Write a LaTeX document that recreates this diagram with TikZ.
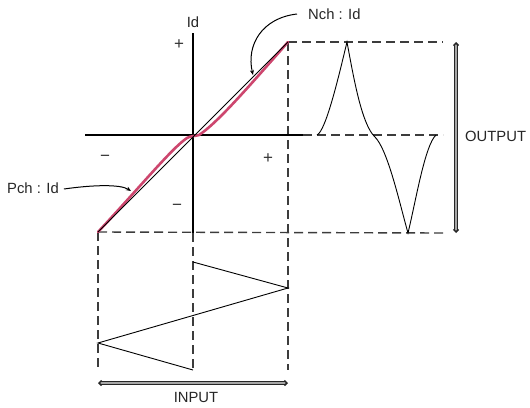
\documentclass[tikz,border=0pt]{standalone}
\usepackage{fontspec}
\setmainfont{Liberation Sans}
\usetikzlibrary{arrows.meta}
\definecolor{pinkline}{RGB}{205,70,110}
\definecolor{dashgray}{RGB}{60,60,60}
\tikzset{
  axisline/.style={line width=1.1pt, black},
  dashline/.style={line width=1.4pt, dashgray, dash pattern=on 9pt off 5pt},
  waveline/.style={line width=0.9pt, black},
  lbl/.style={font=\fontsize{14.8}{16}\selectfont, inner sep=0pt, text=black!85},
  sign/.style={font=\fontsize{17}{18}\selectfont, inner sep=0pt, text=black!80},
  callout/.style={line width=1pt, black, -{Stealth[length=5pt,width=4pt]}},
  dimarrow/.style={line width=1.5pt, double=gray!70, double distance=1.2pt, black!85,
     {Straight Barb[length=2.5pt,width=5pt]}-{Straight Barb[length=2.5pt,width=5pt]}}
}
\begin{document}
\begin{tikzpicture}[x=1pt,y=-1pt]
\useasboundingbox (0,0) rectangle (530,407);
% key points
\coordinate (O) at (193,135);
\coordinate (TR) at (288,42);
\coordinate (BL) at (98,232);
\coordinate (axT) at (193,33);
\coordinate (axB) at (193,233);
\coordinate (axL) at (85,135);
\coordinate (axR) at (303,135);
% dashed guide lines
\draw[dashline] (TR) -- (443,42);
\draw[dashline] (BL) -- (443,233);
\draw[dashline] (axR) -- (443,135);
\draw[dashline] (TR) -- (288,370);
\draw[dashline] (BL) -- (98,370);
\draw[dashline] (axB) -- (193,370);
% axes
\draw[axisline] (axT) -- (axB);
\draw[axisline] (axL) -- (axR);
% pink characteristic
\draw[pinkline, line width=2.6pt, line cap=round]
  (BL) .. controls (140,187) and (172,148) .. (187,138)
  .. controls (190,136) and (196,136) .. (199,135)
  .. controls (216,124) and (246,90) .. (TR);
\draw[line width=0.9pt] (BL) -- (TR);
% output waveform
\draw[waveline] (317,135) .. controls (326,131) and (339,75) .. (347,42)
  .. controls (354,80) and (362,125) .. (375,137)
  .. controls (388,150) and (400,205) .. (408,233)
  .. controls (416,200) and (425,145) .. (436,135);
% input waveform
\coordinate (i1) at (193,262);
\coordinate (i2) at (288,288);
\coordinate (i3) at (98,343);
\coordinate (i4) at (193,370);
\draw[waveline] (i1) -- (i2) -- (i3) -- (i4);
% dimension arrows
\coordinate (oT) at (456,42);
\coordinate (oB) at (456,233);
\draw[dimarrow] (oT) -- (oB);
\coordinate (iL) at (98,383);
\coordinate (iR) at (288,383);
\draw[dimarrow] (iL) -- (iR);
% labels
\node[lbl, anchor=west] (outl) at (465,136) {OUTPUT};
\node[lbl] (inl) at (196,397) {INPUT};
\node[lbl] (idl) at (193,22) {Id};
\node[lbl, anchor=west] (nch) at (308,14) {Nch : Id};
\node[lbl, anchor=west] (pch) at (7,188) {Pch : Id};
\node[sign] (s1) at (179,45) {+};
\node[sign] (s2) at (105,158) {−};
\node[sign] (s3) at (268,159) {+};
\node[sign] (s4) at (177,207) {−};
% callouts
\coordinate (nchT) at (253,75);
\coordinate (pchT) at (131,191);
\draw[callout] (nch.west) ++(-11,0) .. controls (262,18) and (246,45) .. (nchT);
\draw[callout] (pch.east) ++(5,1) .. controls (92,185) and (120,184) .. (pchT);
\end{tikzpicture}
\end{document}
